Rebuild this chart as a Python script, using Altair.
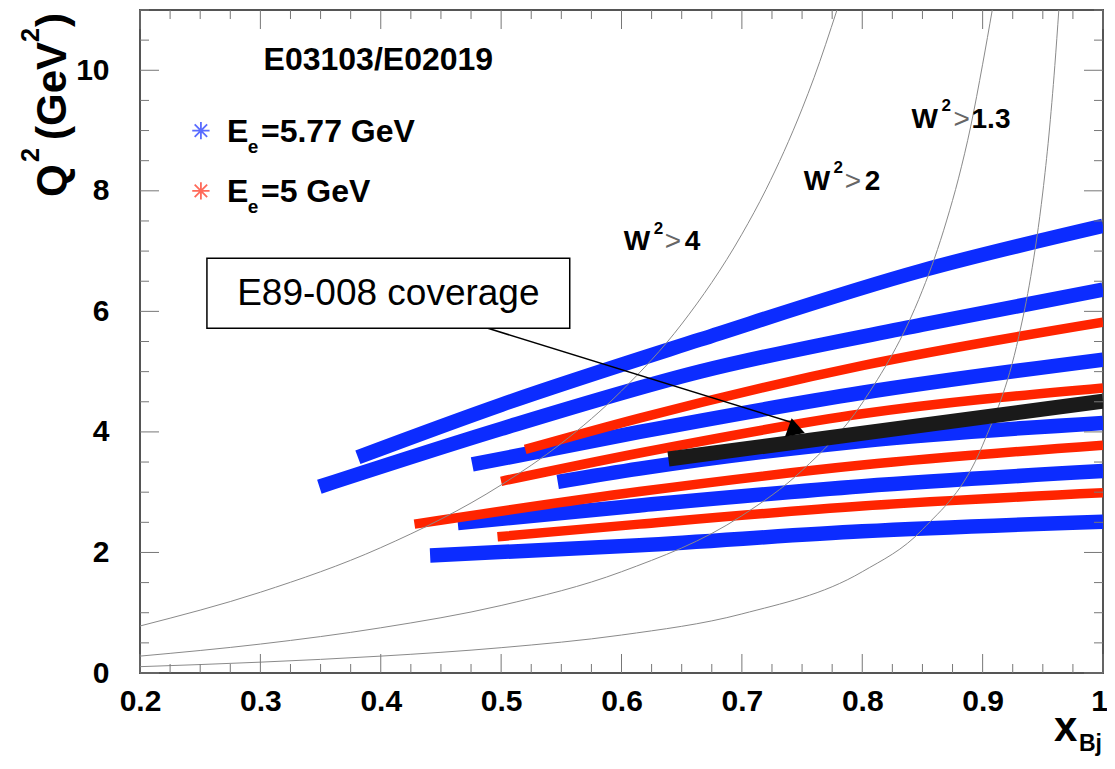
import altair as alt
import pandas as pd

FONT = "Liberation Sans"
BLUE = "#0c2cff"
RED = "#ff2400"
BLACK = "#1a1a1a"

# ---- kinematic coverage bands, E_e = 5.77 GeV (blue) ----
blue_bands = {
    "b1": ([0.381, 0.50, 0.665, 0.85, 1.00], [3.58, 4.45, 5.53, 6.68, 7.42]),
    "b2": ([0.349, 0.50, 0.665, 0.85, 1.00], [3.09, 4.05, 5.00, 5.78, 6.36]),
    "b3": ([0.476, 0.615, 0.80, 1.00], [3.46, 4.00, 4.65, 5.20]),
    "b4": ([0.547, 0.615, 0.80, 1.00], [3.17, 3.39, 3.85, 4.15]),
    "b5": ([0.464, 0.615, 0.80, 1.00], [2.49, 2.78, 3.10, 3.35]),
    "b6": ([0.441, 0.615, 0.80, 1.00], [1.95, 2.12, 2.35, 2.51]),
}
# ---- E_e = 5 GeV (red) ----
red_bands = {
    "r1": ([0.520, 0.615, 0.80, 1.00], [3.71, 4.23, 5.10, 5.82]),
    "r2": ([0.500, 0.615, 0.80, 1.00], [3.18, 3.65, 4.30, 4.73]),
    "r3": ([0.428, 0.615, 0.80, 1.00], [2.47, 3.01, 3.45, 3.78]),
    "r4": ([0.497, 0.615, 0.80, 1.00], [2.26, 2.47, 2.77, 2.99]),
}
# ---- E89-008 coverage ----
e89_x = [0.639, 1.0]
e89_y = [3.55, 4.51]

# ---- W^2 limit curves ----
w4_x = [0.2, 0.3, 0.4, 0.5, 0.55, 0.6, 0.65, 0.7, 0.72, 0.75, 0.76, 0.779]
w4_y = [0.78, 1.34, 2.08, 3.12, 3.81, 4.68, 5.79, 7.28, 8.02, 9.36, 9.88, 11.0]
w2_x = [0.2, 0.3, 0.4, 0.5, 0.6, 0.7, 0.75, 0.8, 0.85, 0.86, 0.87, 0.88, 0.89, 0.9, 0.908]
w2_y = [0.28, 0.48, 0.75, 1.12, 1.68, 2.61, 3.36, 4.48, 6.35, 6.88, 7.50, 8.21, 9.06, 10.1, 11.0]
w13_x = [0.2, 0.3, 0.4, 0.5, 0.6, 0.7, 0.8, 0.85, 0.9, 0.93, 0.94, 0.95, 0.955, 0.96, 0.9633]
w13_y = [0.105, 0.18, 0.28, 0.42, 0.63, 0.98, 1.68, 2.38, 3.78, 5.58, 6.58, 7.98, 8.91, 10.08, 11.0]

# ---- axis tick values ----
x_labels = [0.2, 0.3, 0.4, 0.5, 0.6, 0.7, 0.8, 0.9, 1.0]
x_minor = [round(0.2 + 0.025 * i, 3) for i in range(33) if i % 4 != 0]
y_labels = [0, 2, 4, 6, 8, 10]
y_minor = [v / 2 for v in range(23) if v % 4 != 0]

# ---- annotations (data coordinates) ----
header = {"x": [0.398], "y": [10.0], "t": ["E03103/E02019"]}
legend_star = {"x": [0.2506, 0.2506], "y": [9.0, 8.0], "e": ["5.77", "5"]}
legend_E = {"x": [0.2722, 0.2722], "y": [8.805, 7.81]}
legend_sub = {"x": [0.2895, 0.2895], "y": [8.62, 7.63]}
legend_rest = {"x": [0.3005, 0.3005], "y": [8.805, 7.81], "t": ["=5.77 GeV", "=5 GeV"]}
w_main = {"x": [0.6019, 0.7513, 0.8410], "y": [7.013, 8.009, 9.038]}
w_sup = {"x": [0.6268, 0.7762, 0.8659], "y": [7.29, 8.29, 9.32]}
w_gt = {"x": [0.6359, 0.7854, 0.8759], "y": [7.013, 8.009, 9.038]}
w_val = {"x": [0.6525, 0.8020, 0.8908], "y": [7.013, 8.009, 9.038], "t": ["4", "2", "1.3"]}
box = {"x1": [0.2556], "x2": [0.557], "y1": [6.88], "y2": [5.72]}
box_text = {"x": [0.4063], "y": [6.10], "t": ["E89-008 coverage"]}
arrow = {"x1": [0.489], "y1": [5.72], "x2": [0.741], "y2": [4.16]}
arrow_head = {"x": [0.7428], "y": [4.077]}

W, H = 963, 663

xs = alt.Scale(domain=[0.2, 1.0], nice=False, zero=False)
ys = alt.Scale(domain=[0, 11], nice=False, zero=False)
xaxis = alt.Axis(values=x_labels, format=".1~f", labelFont=FONT, labelFontSize=30,
                 labelFontWeight="bold", labelColor="black", ticks=False, tickSize=0,
                 domain=False, grid=False, labelPadding=13, labelFlush=False,
                 labelOverlap=False, title=None,
                 labelOffset={"condition": {"test": "datum.value >= 1", "value": -4}, "value": 0})
yaxis = alt.Axis(values=y_labels, format="d", labelFont=FONT, labelFontSize=30,
                 labelFontWeight="bold", labelColor="black", ticks=False, tickSize=0,
                 domain=False, grid=False, labelPadding=31, labelFlush=False,
                 labelOverlap=False, title=None)


def X(f):
    return alt.X(f, type="quantitative", scale=xs, axis=xaxis)


def Y(f):
    return alt.Y(f, type="quantitative", scale=ys, axis=yaxis)


def band_df(d):
    rows = []
    for name, (xv, yv) in d.items():
        for a, b in zip(xv, yv):
            rows.append({"band": name, "x": a, "y": b})
    return pd.DataFrame(rows)


layers = []

layers.append(alt.Chart(band_df(blue_bands)).mark_line(
    color=BLUE, strokeWidth=14.5, strokeCap="butt", interpolate="monotone", clip=True
).encode(x=X("x"), y=Y("y"), detail="band:N"))

layers.append(alt.Chart(band_df(red_bands)).mark_line(
    color=RED, strokeWidth=9.5, strokeCap="butt", interpolate="monotone", clip=True
).encode(x=X("x"), y=Y("y"), detail="band:N"))

curves = band_df({"w4": (w4_x, w4_y), "w2": (w2_x, w2_y), "w13": (w13_x, w13_y)})
layers.append(alt.Chart(curves).mark_line(
    color="#8a8a8a", strokeWidth=1, interpolate="monotone", clip=True
).encode(x=X("x"), y=Y("y"), detail="band:N"))

layers.append(alt.Chart(pd.DataFrame({"x": e89_x, "y": e89_y})).mark_line(
    color=BLACK, strokeWidth=15, strokeCap="butt", clip=True
).encode(x=X("x"), y=Y("y")))

layers.append(alt.Chart(pd.DataFrame(arrow)).mark_rule(color="black", strokeWidth=1.5).encode(
    x=X("x1"), x2="x2", y=Y("y1"), y2="y2"))

TRI = "M0,-1L1.1,0.85L-1.1,0.85Z"
layers.append(alt.Chart(pd.DataFrame(arrow_head)).mark_point(
    shape=TRI, size=338, filled=True, color="black", opacity=1, angle=349
).encode(x=X("x"), y=Y("y")))

layers.append(alt.Chart(pd.DataFrame(box)).mark_rect(
    fill="white", stroke="black", strokeWidth=1.5
).encode(x=X("x1"), x2="x2", y=Y("y1"), y2="y2"))

layers.append(alt.Chart(pd.DataFrame(box_text)).mark_text(
    font=FONT, fontSize=37, color="black", align="center", baseline="alphabetic"
).encode(x=X("x"), y=Y("y"), text="t:N"))

layers.append(alt.Chart(pd.DataFrame(header)).mark_text(
    font=FONT, fontSize=32, fontWeight="bold", color="black", align="center", baseline="alphabetic"
).encode(x=X("x"), y=Y("y"), text="t:N"))

STAR = "M-1,0L1,0M0,-1L0,1M-0.72,-0.72L0.72,0.72M-0.72,0.72L0.72,-0.72"
layers.append(alt.Chart(pd.DataFrame(legend_star)).mark_point(
    shape=STAR, size=300, filled=False, strokeWidth=1.8, opacity=1
).encode(x=X("x"), y=Y("y"),
         color=alt.Color("e:N", scale=alt.Scale(domain=["5.77", "5"], range=["#5a6cff", "#ff6a5a"]),
                         legend=None)))

layers.append(alt.Chart(pd.DataFrame(legend_E)).mark_text(
    text="E", font=FONT, fontSize=32, fontWeight="bold", color="black", align="left", baseline="alphabetic"
).encode(x=X("x"), y=Y("y")))
layers.append(alt.Chart(pd.DataFrame(legend_sub)).mark_text(
    text="e", font=FONT, fontSize=19, fontWeight="bold", color="black", align="left", baseline="alphabetic"
).encode(x=X("x"), y=Y("y")))
layers.append(alt.Chart(pd.DataFrame(legend_rest)).mark_text(
    font=FONT, fontSize=32, fontWeight="bold", color="black", align="left", baseline="alphabetic"
).encode(x=X("x"), y=Y("y"), text="t:N"))

layers.append(alt.Chart(pd.DataFrame(w_main)).mark_text(
    text="W", font=FONT, fontSize=28, fontWeight="bold", color="black", align="left", baseline="alphabetic"
).encode(x=X("x"), y=Y("y")))
layers.append(alt.Chart(pd.DataFrame(w_sup)).mark_text(
    text="2", font=FONT, fontSize=17, fontWeight="bold", color="black", align="left", baseline="alphabetic"
).encode(x=X("x"), y=Y("y")))
layers.append(alt.Chart(pd.DataFrame(w_gt)).mark_text(
    text=">", font=FONT, fontSize=28, color="#666666", align="left", baseline="alphabetic"
).encode(x=X("x"), y=Y("y")))
layers.append(alt.Chart(pd.DataFrame(w_val)).mark_text(
    font=FONT, fontSize=28, fontWeight="bold", color="black", align="left", baseline="alphabetic"
).encode(x=X("x"), y=Y("y"), text="t:N"))

# ---- inward ticks on all four sides ----
TICK = "#777777"
for vals, ln in ((x_labels, 19), (x_minor, 9)):
    d = pd.DataFrame({"v": vals})
    layers.append(alt.Chart(d).mark_rule(color=TICK, strokeWidth=1).encode(
        x=X("v"), y=alt.value(H), y2=alt.value(H - ln)))
    layers.append(alt.Chart(d).mark_rule(color=TICK, strokeWidth=1).encode(
        x=X("v"), y=alt.value(0), y2=alt.value(ln)))
for vals, ln in ((y_labels, 19), (y_minor, 9)):
    d = pd.DataFrame({"v": vals})
    layers.append(alt.Chart(d).mark_rule(color=TICK, strokeWidth=1).encode(
        y=Y("v"), x=alt.value(0), x2=alt.value(ln)))
    layers.append(alt.Chart(d).mark_rule(color=TICK, strokeWidth=1).encode(
        y=Y("v"), x=alt.value(W), x2=alt.value(W - ln)))

# ---- axis titles (with super/subscripts) ----
one = pd.DataFrame({"a": [0]})


def title_piece(txt, size, px, py, angle=0):
    return alt.Chart(one).mark_text(
        text=txt, font=FONT, fontSize=size, fontWeight="bold", color="black",
        align="left", baseline="alphabetic", angle=angle
    ).encode(x=alt.value(px), y=alt.value(py))


# y title: Q^2 (GeV^2), reading bottom to top
layers.append(title_piece("Q", 42, -74, 187, 270))
layers.append(title_piece("2", 25, -101, 152, 270))
layers.append(title_piece("(GeV", 42, -74, 130, 270))
layers.append(title_piece("2", 25, -101, 32, 270))
layers.append(title_piece(")", 42, -74, 17, 270))
# x title: x_Bj
layers.append(title_piece("x", 42, 914, 731))
layers.append(title_piece("Bj", 23, 939, 741))

chart = alt.layer(*layers).properties(
    width=W, height=H,
    autosize=alt.AutoSizeParams(type="none"),
    padding={"left": 132, "top": 2, "right": 4, "bottom": 84},
    background="white",
).configure_view(stroke="#555555", strokeWidth=2)

chart.save("out.html", embed_options={"renderer": "svg", "actions": False})
